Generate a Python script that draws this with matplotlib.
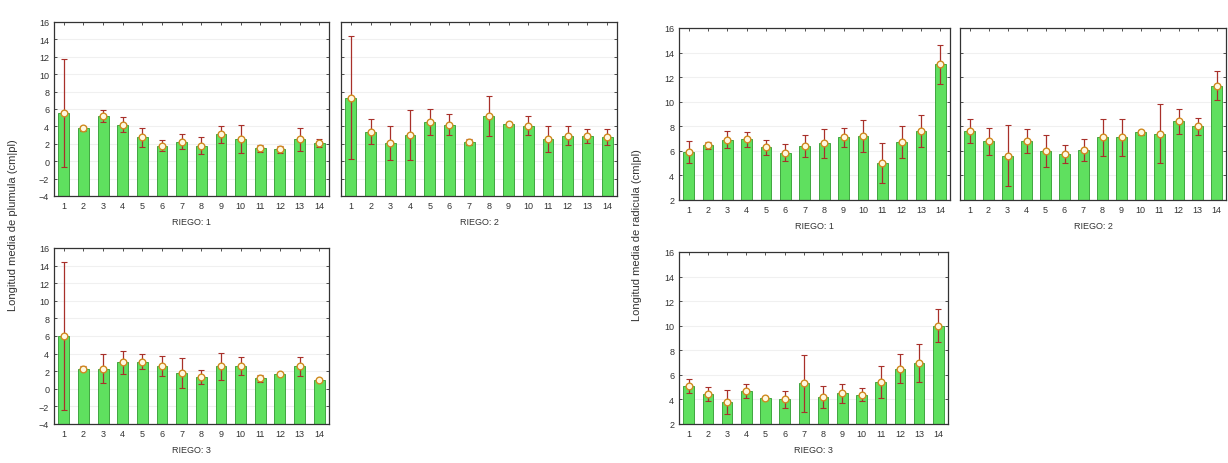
import matplotlib
matplotlib.use("Agg")
import matplotlib.pyplot as plt
import numpy as np

# categories (treatments) shared by every panel
CATS = list(range(1, 14 + 1))

# plumula length, mean and error-bar half-width, per irrigation
PLU_R1 = [5.5, 3.8, 5.2, 4.2, 2.75, 1.8, 2.25, 1.8, 3.1, 2.6, 1.5, 1.4, 2.5, 2.1]
PLU_R1_ERR = [6.2, 0.3, 0.7, 0.9, 1.1, 0.6, 0.9, 1.0, 1.0, 1.6, 0.4, 0.4, 1.3, 0.5]
PLU_R2 = [7.3, 3.4, 2.1, 3.0, 4.5, 4.2, 2.2, 5.2, 4.3, 4.1, 2.6, 2.95, 2.9, 2.75]
PLU_R2_ERR = [7.1, 1.4, 2.0, 2.9, 1.5, 1.2, 0.3, 2.3, 0.2, 1.1, 1.5, 1.1, 0.8, 0.9]
PLU_R3 = [6.0, 2.3, 2.3, 3.0, 3.1, 2.6, 1.8, 1.3, 2.55, 2.6, 1.2, 1.7, 2.55, 1.0]
PLU_R3_ERR = [8.4, 0.3, 1.6, 1.3, 0.9, 1.1, 1.7, 0.8, 1.5, 1.0, 0.4, 0.15, 1.1, 0.1]

# radicula length, mean and error-bar half-width, per irrigation
RAD_R1 = [5.9, 6.45, 6.9, 6.95, 6.3, 5.85, 6.4, 6.6, 7.1, 7.2, 5.0, 6.7, 7.6, 13.05]
RAD_R1_ERR = [0.9, 0.3, 0.7, 0.6, 0.6, 0.7, 0.9, 1.2, 0.8, 1.3, 1.6, 1.3, 1.3, 1.6]
RAD_R2 = [7.6, 6.8, 5.6, 6.8, 6.0, 5.75, 6.1, 7.1, 7.1, 7.5, 7.4, 8.4, 8.0, 11.3]
RAD_R2_ERR = [1.0, 1.1, 2.5, 0.95, 1.3, 0.75, 0.9, 1.5, 1.5, 0.2, 2.4, 1.0, 0.7, 1.2]
RAD_R3 = [5.1, 4.45, 3.8, 4.7, 4.1, 4.0, 5.3, 4.2, 4.5, 4.4, 5.45, 6.5, 7.0, 10.0]
RAD_R3_ERR = [0.55, 0.55, 1.0, 0.55, 0.1, 0.7, 2.3, 0.9, 0.75, 0.55, 1.3, 1.2, 1.55, 1.35]

PLU_LABEL = "Longitud media de plumula (cm|pl)"
RAD_LABEL = "Longitud media de radicula (cm|pl)"

plt.rcParams.update({"font.family": ["Liberation Sans", "DejaVu Sans"]})

BAR = "#5fe05f"
EDGE = "#2f9a2f"
ERR = "#a8302a"


def panel(ax, means, errs, ylim, label):
    x = np.arange(len(CATS))
    lo = ylim[0]
    ax.bar(x, np.array(means) - lo, 0.55, bottom=lo, color=BAR, edgecolor=EDGE, linewidth=0.6, zorder=2)
    ax.errorbar(x, means, yerr=errs, fmt="none", ecolor=ERR, elinewidth=0.9, capsize=2.5, capthick=0.8, zorder=3)
    ax.plot(x, means, "o", ms=4.8, mfc="#fff8e0", mec="#d08a20", mew=1.0, zorder=4)
    ax.set_xlim(-0.5, len(CATS) - 0.5)
    ax.set_ylim(*ylim)
    ax.set_yticks(np.arange(ylim[0], ylim[1] + 0.1, 2))
    ax.set_xticks(x)
    ax.set_xticklabels([str(c) for c in CATS], fontsize=6.5, color="#333333")
    ax.tick_params(axis="y", labelsize=6.5, labelcolor="#333333")
    ax.tick_params(direction="in", length=2.5, width=0.6, top=True, right=True, color="#333333")
    ax.set_xlabel(label, fontsize=6.5, color="#333333", labelpad=5)
    ax.yaxis.grid(True, color="#f0f0f0", lw=0.8)
    ax.set_axisbelow(True)
    for s in ax.spines.values():
        s.set_linewidth(0.9)
        s.set_color("#333333")


fig = plt.figure(figsize=(12.28, 4.64), dpi=100)
W, H = 1228, 464


def add(l, t, r, b):
    return fig.add_axes([l / W, 1 - b / H, (r - l) / W, (b - t) / H])


a1 = add(54, 23, 329, 197)
a2 = add(341, 23, 617, 197)
a3 = add(54, 249, 329, 425)
a4 = add(679, 29, 950, 201)
a5 = add(960, 29, 1226, 201)
a6 = add(679, 253, 948, 425)

panel(a1, PLU_R1, PLU_R1_ERR, (-4, 16), "RIEGO: 1")
panel(a2, PLU_R2, PLU_R2_ERR, (-4, 16), "RIEGO: 2")
panel(a3, PLU_R3, PLU_R3_ERR, (-4, 16), "RIEGO: 3")
panel(a4, RAD_R1, RAD_R1_ERR, (2, 16), "RIEGO: 1")
panel(a5, RAD_R2, RAD_R2_ERR, (2, 16), "RIEGO: 2")
panel(a6, RAD_R3, RAD_R3_ERR, (2, 16), "RIEGO: 3")

# shared y labels for each group; second panel of each row carries no y tick labels
for ax in (a2, a5):
    ax.tick_params(labelleft=False)
fig.text(13 / W, 1 - 225 / H, PLU_LABEL, rotation=90, ha="center", va="center", fontsize=8, color="#333333")
fig.text(637 / W, 1 - 235 / H, RAD_LABEL, rotation=90, ha="center", va="center", fontsize=8, color="#333333")

fig.savefig("out.png", dpi=100)
